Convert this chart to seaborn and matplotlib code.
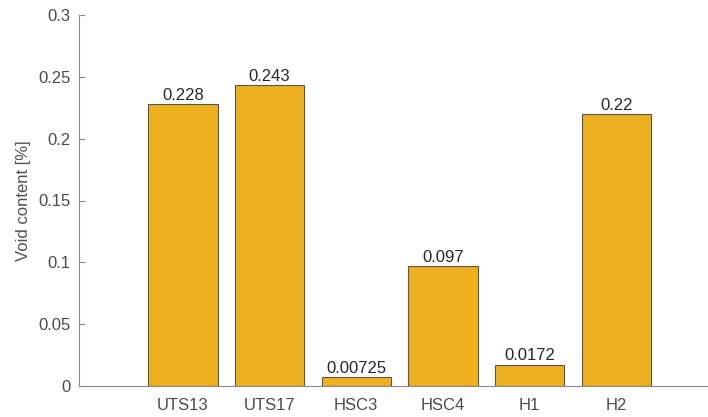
import matplotlib
matplotlib.use("Agg")
import matplotlib.pyplot as plt
import seaborn as sns
import pandas as pd

samples = ["UTS13", "UTS17", "HSC3", "HSC4", "H1", "H2"]
void_content = [0.228, 0.243, 0.00725, 0.097, 0.0172, 0.22]
value_labels = ["0.228", "0.243", "0.00725", "0.097", "0.0172", "0.22"]
y_ticks = [0, 0.05, 0.1, 0.15, 0.2, 0.25, 0.3]
y_tick_labels = ["0", "0.05", "0.1", "0.15", "0.2", "0.25", "0.3"]

sns.set_theme(style="white")
plt.rcParams["font.family"] = ["Liberation Sans", "DejaVu Sans"]

df = pd.DataFrame({"sample": samples, "void": void_content})

W, H = 708, 417
fig = plt.figure(figsize=(W / 100, H / 100), dpi=100)
ax = fig.add_axes([79 / W, (H - 386) / H, (708 - 79) / W, (386 - 15) / H])

sns.barplot(data=df, x="sample", y="void", order=samples, color="#EDB120",
            saturation=1, width=0.8, edgecolor="#555555", linewidth=0.8, ax=ax)

ax.bar_label(ax.containers[0], labels=value_labels, padding=1,
             fontsize=12, color="#262626")

ax.set_xlim(-1.2, 6.06)
ax.set_ylim(0, 0.3)
ax.set_yticks(y_ticks)
ax.set_yticklabels(y_tick_labels)
ax.set_xlabel("")
ax.set_ylabel("Void content [%]", fontsize=12, color="#505050", labelpad=5)

for side in ["top", "right"]:
    ax.spines[side].set_visible(False)
for side in ["left", "bottom"]:
    ax.spines[side].set_color("#8a8a8a")
    ax.spines[side].set_linewidth(0.8)

ax.tick_params(axis="both", direction="in", length=4, width=0.8,
               color="#8a8a8a", labelsize=12, labelcolor="#4a4a4a")
ax.tick_params(axis="y", left=True, pad=6)
ax.tick_params(axis="x", bottom=True, pad=9)

fig.savefig("out.png", dpi=100)
